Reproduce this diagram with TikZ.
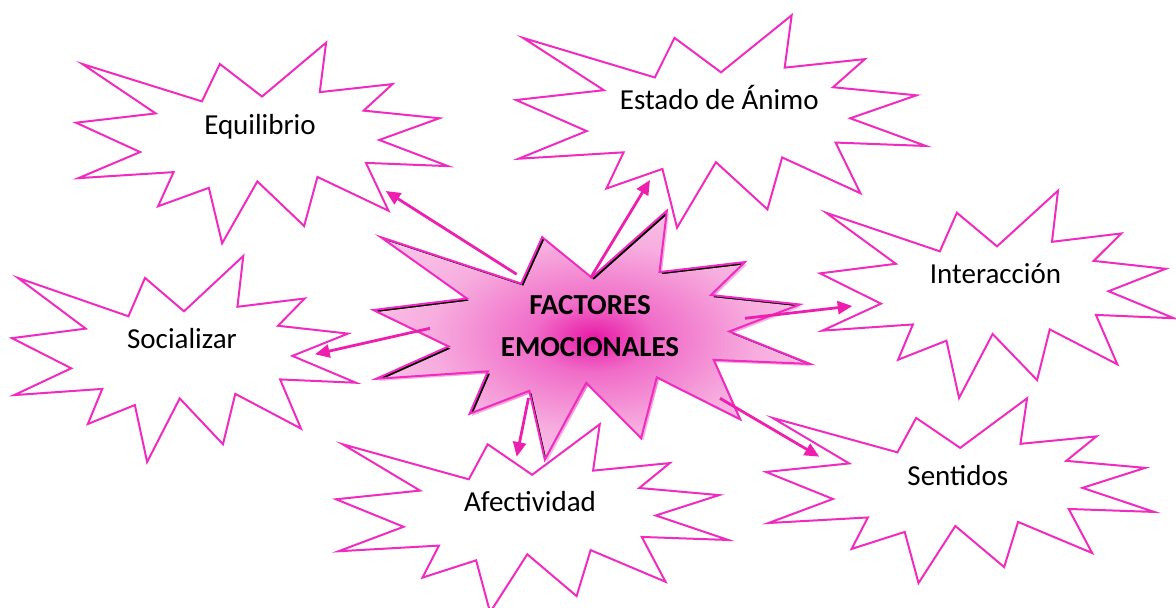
\documentclass[tikz,border=0pt]{standalone}
\usepackage{fontspec}
\setmainfont{Carlito}
\usetikzlibrary{arrows.meta}
\definecolor{outl}{HTML}{F02CC0}
\definecolor{arr}{HTML}{EC1FAE}
\definecolor{gdark}{HTML}{E81AA6}
\definecolor{gmid}{HTML}{F06CC8}
\definecolor{glight}{HTML}{F7AEDF}
\definecolor{gpale}{HTML}{FBCCEC}
\pgfdeclareradialshading{burst}{\pgfpoint{0bp}{0bp}}{color(0bp)=(gdark); color(7bp)=(gmid); color(19bp)=(glight); color(32bp)=(gpale); color(50bp)=(gpale)}
\newcommand\seal[5]{%
  \begin{scope}[shift={(#1,#2)},xscale=#3,yscale=#4]
  \path[#5] (0.5,0.2685) -- (0.6723,0) -- (0.6553,0.2465) -- (0.8509,0.2063) -- (0.7732,0.3387) -- (0.9767,0.3767) -- (0.8151,0.4850) -- (1,0.6153) -- (0.7795,0.5992) -- (0.8400,0.8377) -- (0.6491,0.6693) -- (0.6133,0.9138) -- (0.4876,0.6914) -- (0.3928,1) -- (0.3572,0.7235) -- (0.2205,0.8156) -- (0.2624,0.6452) -- (0.0063,0.6753) -- (0.1723,0.5451) -- (0,0.3988) -- (0.2142,0.3526) -- (0.0171,0.1063) -- (0.3385,0.2926) -- (0.3867,0.1063) -- cycle;
  \end{scope}}
\tikzset{
  burstline/.style={draw=outl, line width=1pt, line join=miter, fill=white},
  burstedge/.style={draw=outl, line width=1pt, line join=miter},
  link/.style={draw=arr, line width=1.4pt, -{Triangle[length=7.3pt,width=6.5pt]}},
  lbl/.style={anchor=base, inner sep=0pt, font=\fontsize{14.5}{17}\selectfont},
  clbl/.style={anchor=base, inner sep=0pt, font=\fontsize{14.5}{17}\selectfont\bfseries}
}
\begin{document}
\begin{tikzpicture}[x=0.5pt,y=-0.5pt]
\useasboundingbox (0,0) rectangle (1176,608);
% outer bursts
\seal{76}{42.7}{372}{200.6}{burstline}
\seal{516}{15.3}{410}{212.4}{burstline}
\seal{820}{190.7}{354}{207.3}{burstline}
\seal{12}{256}{344}{206}{burstline}
\seal{336}{424.3}{392.3}{188}{burstline}
\seal{766}{398.3}{388.3}{184.7}{burstline}
% central burst
\seal{373.3}{210.7}{436.7}{249}{fill=black}
\seal{375.5}{212.9}{436.7}{249}{shade, shading=burst}
\seal{373.3}{210.7}{436.7}{249}{burstedge}
% arrow end points
\coordinate (s1) at (516.7,274.3); \coordinate (e1) at (385.7,191);
\coordinate (s2) at (590.7,277.7); \coordinate (e2) at (650,180);
\coordinate (s3) at (430,328.3);   \coordinate (e3) at (315,354.3);
\coordinate (s4) at (745,318.3);   \coordinate (e4) at (852.3,306);
\coordinate (s5) at (720,398.3);   \coordinate (e5) at (819.3,456.7);
\coordinate (s6) at (528.5,398);   \coordinate (e6) at (516.7,456.7);
\draw[link] (s1) -- (e1);
\draw[link] (s2) -- (e2);
\draw[link] (s3) -- (e3);
\draw[link] (s4) -- (e4);
\draw[link] (s5) -- (e5);
\draw[link] (s6) -- (e6);
% labels
\node[lbl] (equi) at (260,135) {Equilibrio};
\node[lbl] (esta) at (719.3,110) {Estado de Ánimo};
\node[lbl] (inte) at (995.5,284) {Interacción};
\node[lbl] (soci) at (182,349) {Socializar};
\node[lbl] (afec) at (530,511.7) {Afectividad};
\node[lbl] (sent) at (957.8,485) {Sentidos};
\node[clbl] (fac) at (590,315) {FACTORES};
\node[clbl] (emo) at (590,356.7) {EMOCIONALES};
\end{tikzpicture}
\end{document}
